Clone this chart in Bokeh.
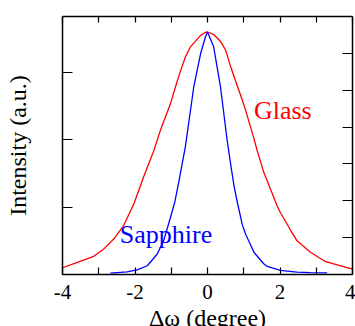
from bokeh.plotting import figure
from bokeh.models import LinearAxis, Range1d, FixedTicker, Label
from bokeh.embed import file_html
from bokeh.resources import INLINE

# Glass rocking curve (intensity, a.u.)
glass_x = [-4.0, -3.59, -3.14, -2.86, -2.58, -2.31, -2.03, -1.76, -1.48, -1.30,
           -1.02, -0.83, -0.74, -0.61, -0.47, -0.19, -0.08, 0.0, 0.18, 0.36,
           0.50, 0.63, 0.77, 0.96, 1.05, 1.28, 1.37, 1.46, 1.55, 1.92,
           2.01, 2.29, 2.47, 2.75, 2.84, 3.26, 3.90, 4.0]
glass_y = [0.10, 0.18, 0.27, 0.38, 0.53, 0.73, 1.05, 1.45, 1.84, 2.14,
           2.54, 2.88, 3.03, 3.23, 3.38, 3.55, 3.59, 3.60, 3.56, 3.46,
           3.33, 3.10, 2.88, 2.59, 2.44, 2.02, 1.84, 1.68, 1.52, 1.02,
           0.92, 0.66, 0.50, 0.37, 0.33, 0.19, 0.094, 0.085]

# Sapphire rocking curve (intensity, a.u.)
sapphire_x = [-2.68, -2.22, -1.94, -1.66, -1.39, -1.21, -1.02, -0.90, -0.79, -0.61,
              -0.38, -0.19, -0.055, 0.0, 0.17, 0.36, 0.54, 0.63, 0.73, 0.82,
              0.96, 1.05, 1.28, 1.55, 1.65, 2.01, 2.47, 2.84, 3.3]
sapphire_y = [0.02, 0.04, 0.07, 0.13, 0.30, 0.50, 0.85, 1.08, 1.38, 1.90,
              2.78, 3.28, 3.53, 3.60, 3.38, 2.78, 2.00, 1.67, 1.32, 1.08,
              0.74, 0.60, 0.33, 0.16, 0.12, 0.06, 0.035, 0.028, 0.025]

x_ticks = [-4, -2, 0, 2, 4]
x_tick_labels = ["-4", "-2", "0", "2", "4"]
x_minor_ticks = [-3, -1, 1, 3]
y_left_ticks = [0, 1, 2, 3]
y_right_ticks = [1, 2, 3, 4, 5, 6]

FONT = "Liberation Serif"

p = figure(frame_width=290, frame_height=258, x_range=Range1d(-4, 4), y_range=Range1d(0, 3.83),
           output_backend="svg", toolbar_location=None,
           x_axis_location=None, y_axis_location=None,
           min_border_left=62, min_border_right=3, min_border_top=16, min_border_bottom=52)
p.extra_y_ranges = {"r": Range1d(0, 7)}
p.grid.visible = False
p.outline_line_color = None
p.background_fill_color = "white"
p.border_fill_color = "white"

def style(ax, tick_len):
    ax.axis_line_color = "black"
    ax.axis_line_width = 1.5
    ax.major_tick_line_color = "black"
    ax.major_tick_line_width = 1.2
    ax.minor_tick_line_color = "black"
    ax.minor_tick_line_width = 1.2
    ax.major_tick_in = tick_len
    ax.major_tick_out = 0
    ax.minor_tick_in = tick_len
    ax.minor_tick_out = 0

xb = LinearAxis(ticker=FixedTicker(ticks=x_ticks, minor_ticks=x_minor_ticks),
                major_label_overrides={t: l for t, l in zip(x_ticks, x_tick_labels)},
                axis_label="Δω (degree)")
style(xb, 7)
xb.major_label_text_font = FONT
xb.major_label_text_font_size = "21px"
xb.major_label_text_color = "black"
xb.major_label_standoff = 10
xb.axis_label_text_font = FONT
xb.axis_label_text_font_size = "24px"
xb.axis_label_text_font_style = "normal"
xb.axis_label_text_color = "black"
xb.axis_label_standoff = 3
p.add_layout(xb, "below")

xt = LinearAxis(ticker=FixedTicker(ticks=x_ticks, minor_ticks=x_minor_ticks))
style(xt, 6)
xt.major_label_text_font_size = "0px"
xt.major_label_standoff = 0
p.add_layout(xt, "above")

yl = LinearAxis(ticker=FixedTicker(ticks=y_left_ticks, minor_ticks=[]),
                axis_label="Intensity (a.u.)")
style(yl, 10)
yl.major_label_text_font_size = "0px"
yl.major_label_standoff = 0
yl.axis_label_text_font = FONT
yl.axis_label_text_font_size = "24px"
yl.axis_label_text_font_style = "normal"
yl.axis_label_text_color = "black"
yl.axis_label_standoff = 32
p.add_layout(yl, "left")

yr = LinearAxis(y_range_name="r", ticker=FixedTicker(ticks=y_right_ticks, minor_ticks=[]))
style(yr, 10)
yr.major_label_text_font_size = "0px"
yr.major_label_standoff = 0
p.add_layout(yr, "right")

p.line(glass_x, glass_y, line_color="#ff0000", line_width=1.3)
p.line(sapphire_x, sapphire_y, line_color="#0000ff", line_width=1.3)

p.add_layout(Label(x=1.28, y=2.43, text="Glass", text_color="#ff0000",
                   text_font=FONT, text_font_size="26px", text_baseline="alphabetic"))
p.add_layout(Label(x=-2.42, y=0.60, text="Sapphire", text_color="#0000ff",
                   text_font=FONT, text_font_size="26px", text_baseline="alphabetic"))

open("out.html", "w").write(file_html(p, INLINE))
